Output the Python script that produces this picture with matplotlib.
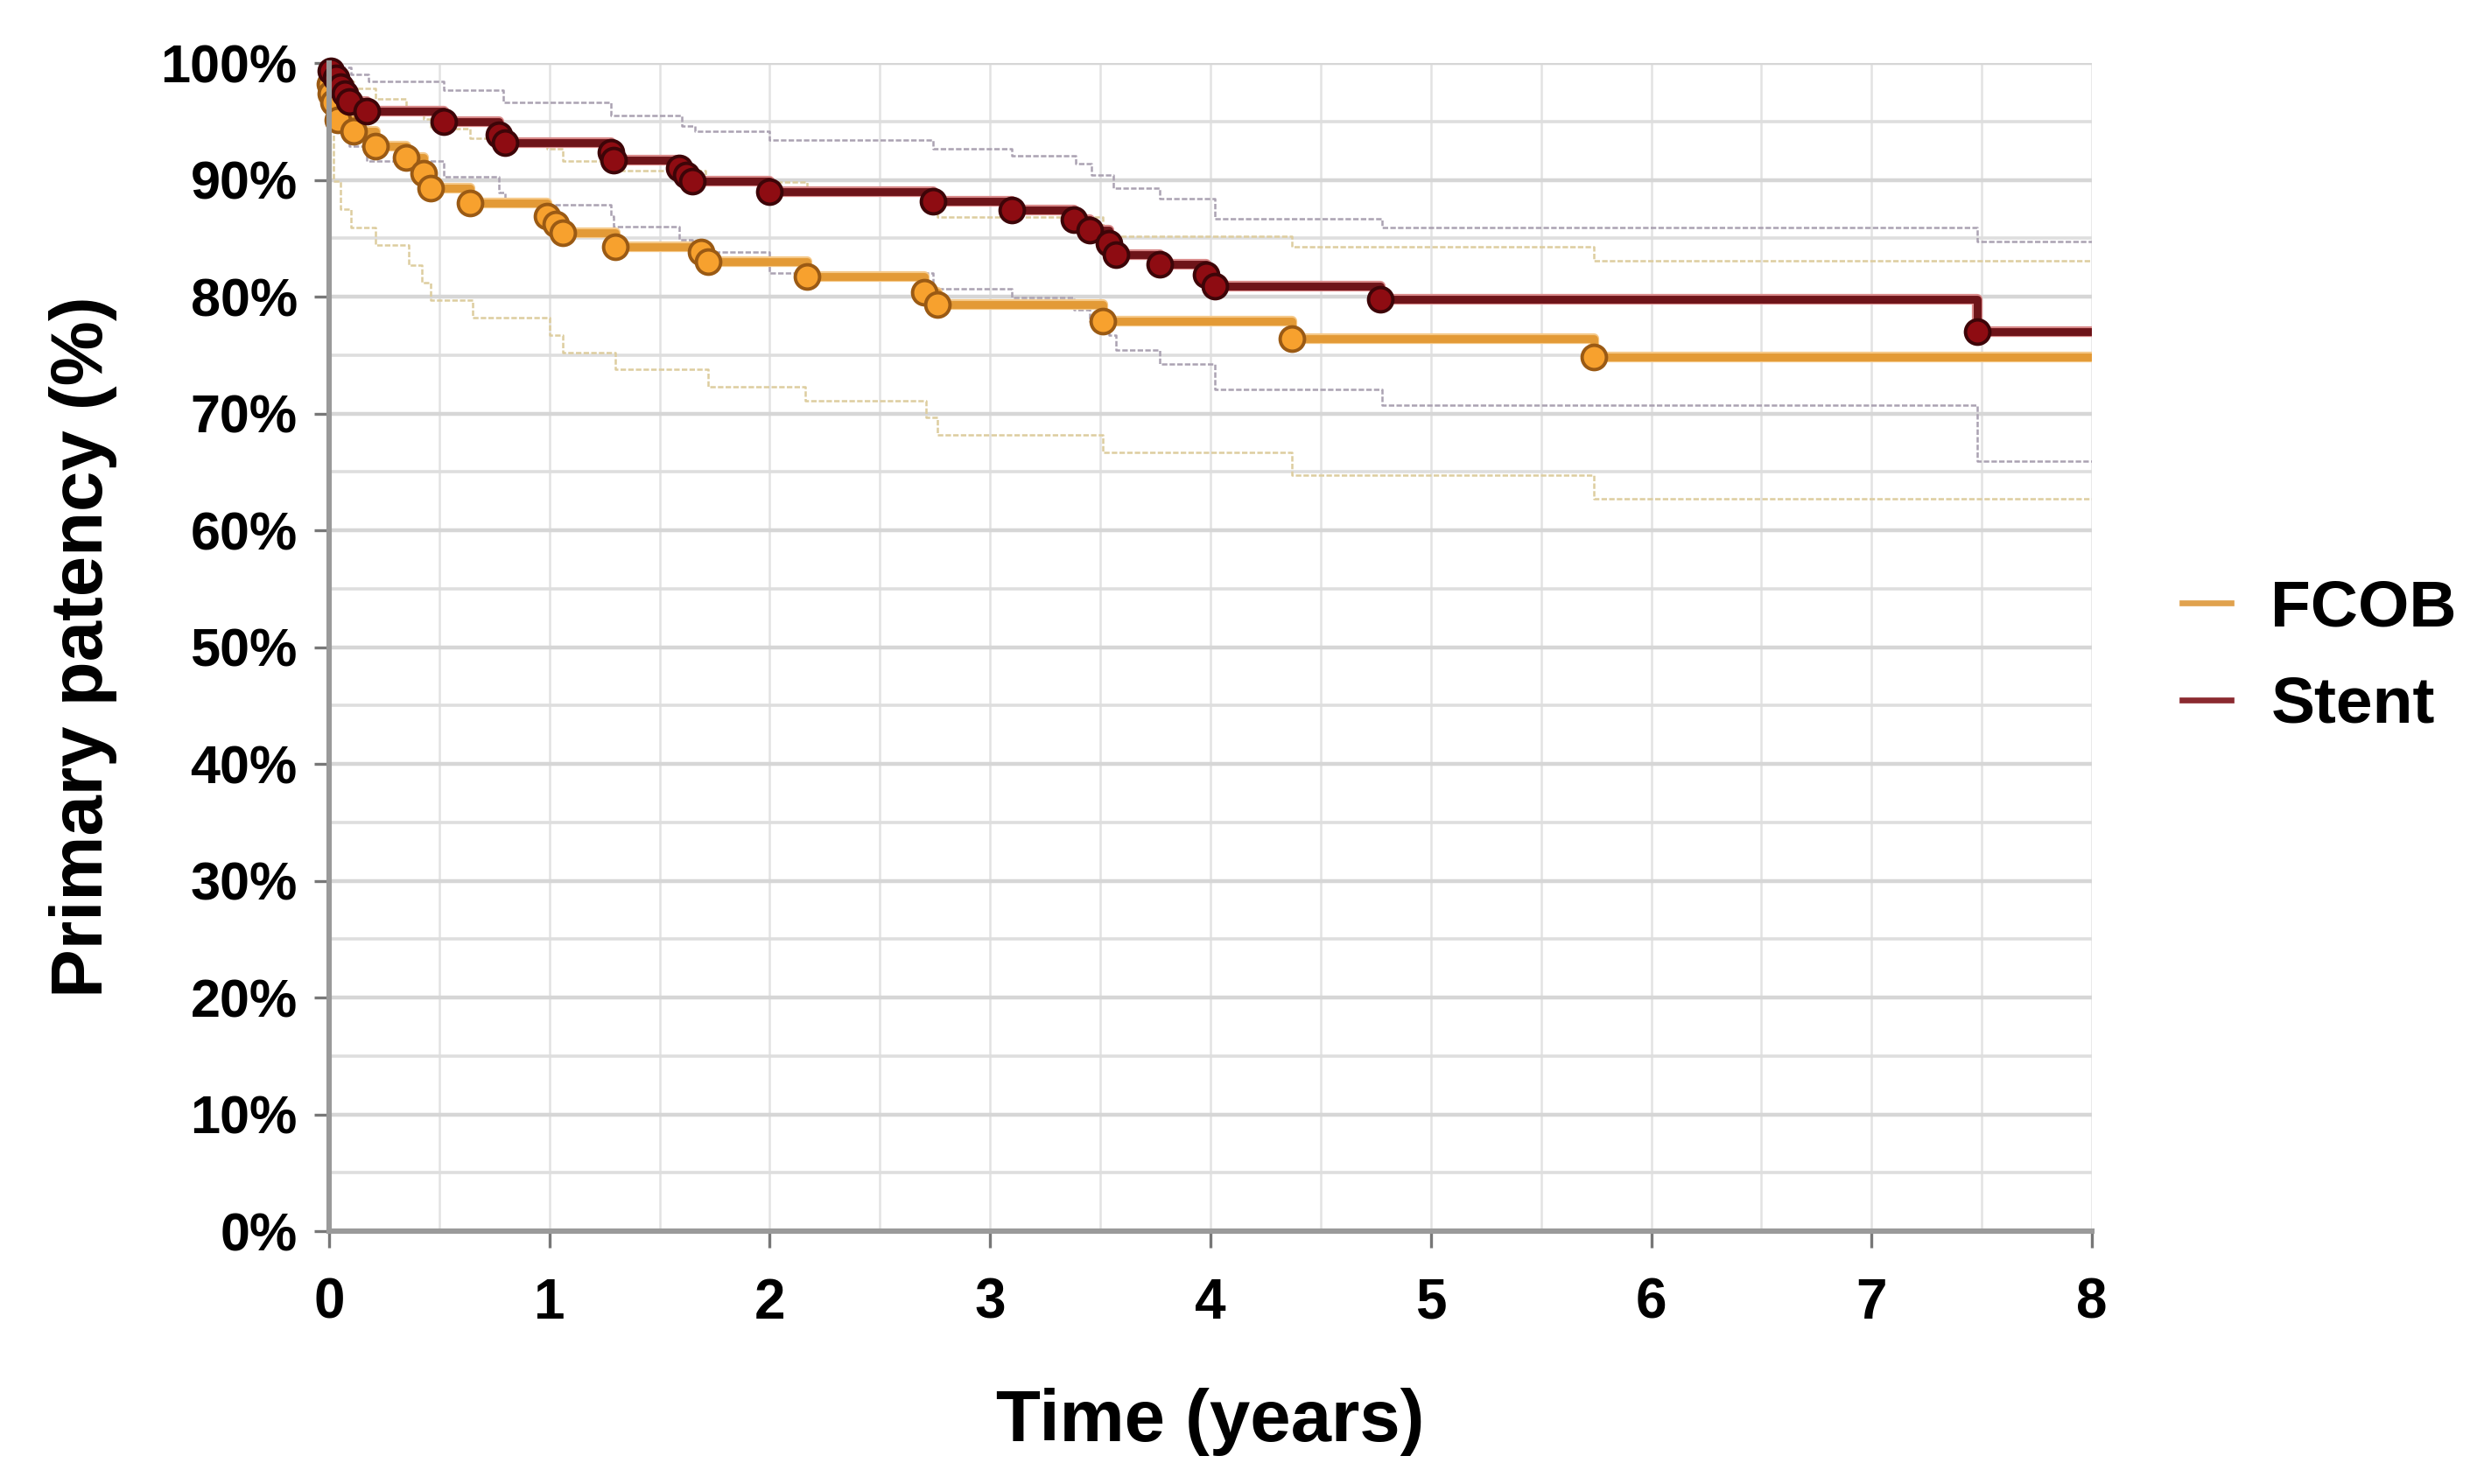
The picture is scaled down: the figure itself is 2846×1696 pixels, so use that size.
import matplotlib
matplotlib.use("Agg")
import matplotlib.pyplot as plt
import matplotlib.patheffects as pe
from matplotlib.lines import Line2D
from matplotlib.ticker import MultipleLocator, FuncFormatter

plt.rcParams['font.family'] = ['Liberation Sans', 'DejaVu Sans']
plt.rcParams['font.weight'] = 'bold'

# Kaplan-Meier estimates (time in years, patency in %)
stent_t = [0, 0.01, 0.03, 0.05, 0.07, 0.09, 0.17, 0.52, 0.77, 0.80, 1.28, 1.29, 1.59, 1.62, 1.65,
           2.0, 2.74, 3.1, 3.38, 3.45, 3.54, 3.57, 3.77, 3.98, 4.02, 4.77, 7.48]
stent_s = [100, 99.3, 98.7, 98.0, 97.4, 96.7, 95.9, 95.0, 93.9, 93.2, 92.4, 91.7, 91.0, 90.4, 89.9,
           89.0, 88.2, 87.4, 86.6, 85.7, 84.6, 83.6, 82.8, 81.9, 80.9, 79.8, 77.0]

fcob_t = [0, 0.005, 0.01, 0.02, 0.04, 0.11, 0.21, 0.35, 0.43, 0.46, 0.64, 0.99, 1.03, 1.06, 1.30,
          1.69, 1.72, 2.17, 2.70, 2.76, 3.51, 4.37, 5.74]
fcob_s = [100, 98.2, 97.4, 96.6, 95.1, 94.2, 92.9, 91.9, 90.6, 89.3, 88.0, 86.9, 86.2, 85.5, 84.3,
          83.8, 83.0, 81.7, 80.4, 79.3, 77.9, 76.4, 74.8]

# confidence limits
stent_up_t = [0, 0.02, 0.1, 0.18, 0.52, 0.79, 1.28, 1.60, 1.66, 2.0, 2.74, 3.1, 3.39, 3.46, 3.56,
              3.77, 4.02, 4.78, 7.48]
stent_up_s = [100, 99.6, 99.0, 98.4, 97.7, 96.6, 95.5, 94.6, 94.2, 93.4, 92.7, 92.1, 91.4, 90.4, 89.3,
              88.4, 86.7, 85.9, 84.7]
stent_lo_t = [0, 0.01, 0.03, 0.05, 0.07, 0.09, 0.17, 0.52, 0.77, 0.80, 1.28, 1.29, 1.59, 1.65, 2.0,
              2.74, 3.1, 3.38, 3.45, 3.54, 3.57, 3.77, 4.02, 4.78, 7.48]
stent_lo_s = [100, 97.8, 96.3, 95.0, 93.9, 92.9, 91.6, 90.3, 88.9, 87.9, 86.9, 86.0, 84.9, 83.8, 82.0,
              80.7, 79.9, 78.9, 77.9, 76.7, 75.4, 74.2, 72.1, 70.7, 65.9]
fcob_up_t = [0, 0.005, 0.01, 0.02, 0.04, 0.11, 0.21, 0.35, 0.43, 0.46, 0.64, 0.99, 1.06, 1.30, 1.71,
             2.17, 2.70, 2.76, 3.51, 4.37, 5.74]
fcob_up_s = [100, 99.8, 99.5, 99.1, 98.4, 97.8, 96.9, 96.1, 95.2, 94.4, 93.6, 92.7, 91.6, 90.8, 89.8,
             88.8, 87.7, 86.8, 85.2, 84.3, 83.1]
fcob_lo_t = [0, 0.02, 0.05, 0.10, 0.21, 0.36, 0.42, 0.46, 0.65, 1.0, 1.06, 1.30, 1.72, 2.16, 2.71,
             2.76, 3.51, 4.37, 5.74]
fcob_lo_s = [100, 89.9, 87.5, 85.9, 84.4, 82.7, 81.2, 79.7, 78.2, 76.7, 75.2, 73.8, 72.3, 71.1, 69.7,
             68.2, 66.7, 64.7, 62.7]

t_end = 8

fig = plt.figure(figsize=(14.23, 8.48), dpi=200)
ax = fig.add_axes([0.1321, 0.1704, 0.7077, 0.7871])


def steps(t, s):
    return t + [t_end], s + [s[-1]]


# grid
ax.xaxis.set_minor_locator(MultipleLocator(0.5))
ax.yaxis.set_minor_locator(MultipleLocator(5))
ax.grid(which='minor', axis='x', color='#e2e2e2', lw=0.9)
ax.grid(which='major', axis='x', color='#e2e2e2', lw=0.9)
ax.grid(which='major', axis='y', color='#d6d6d6', lw=1.6)
ax.grid(which='minor', axis='y', color='#dedede', lw=1.3)
ax.set_axisbelow(True)

# confidence limits
for t, s, c in [(stent_up_t, stent_up_s, '#aba2b2'), (stent_lo_t, stent_lo_s, '#aba2b2'),
                (fcob_up_t, fcob_up_s, '#ddcd9f'), (fcob_lo_t, fcob_lo_s, '#ddcd9f')]:
    x, y = steps(t, s)
    ax.step(x, y, where='post', color=c, lw=0.9, ls=(0, (2.5, 1)))

# main curves
x, y = steps(fcob_t, fcob_s)
ax.step(x, y, where='post', color='#e39a36', lw=3.2,
        path_effects=[pe.Stroke(linewidth=4.4, foreground='#f5c98a'), pe.Normal()])
ax.plot(fcob_t[1:], fcob_s[1:], 'o', ms=10, mfc='#f7a12e', mec='#9a5a14', mew=1.4, clip_on=False)

x, y = steps(stent_t, stent_s)
ax.step(x, y, where='post', color='#6e1419', lw=3.2,
        path_effects=[pe.Stroke(linewidth=4.4, foreground='#d98a8a'), pe.Normal()])
ax.plot(stent_t[1:], stent_s[1:], 'o', ms=10, mfc='#8e0c12', mec='#3d0508', mew=1.4, clip_on=False)

ax.set_xlim(0, t_end)
ax.set_ylim(0, 100)
ax.set_xticks(range(0, 9))
ax.set_yticks(range(0, 101, 10))
ax.yaxis.set_major_formatter(FuncFormatter(lambda v, p: f"{int(v)}%"))
ax.tick_params(axis='y', which='major', labelsize=22, colors='#777777', labelcolor='black',
               length=6, width=1.2, pad=7)
ax.tick_params(axis='x', which='major', labelsize=23, colors='#777777', labelcolor='black',
               length=7, width=1.2, pad=12)
ax.tick_params(axis='both', which='minor', length=0)
for lab in ax.get_xticklabels() + ax.get_yticklabels():
    lab.set_fontweight('bold')

for side in ['top', 'right']:
    ax.spines[side].set_visible(False)
ax.spines['left'].set_color('#9a9a9a')
ax.spines['left'].set_linewidth(2.2)
ax.spines['bottom'].set_color('#9a9a9a')
ax.spines['bottom'].set_linewidth(2.2)

ax.set_xlabel('Time (years)', fontsize=30, fontweight='bold', labelpad=24)
ax.set_ylabel('Primary patency (%)', fontsize=30, fontweight='bold', labelpad=18)

handles = [Line2D([], [], color='#e0a24e', lw=2.4), Line2D([], [], color='#8b2a30', lw=2.4)]
fig.legend(handles, ['FCOB', 'Stent'], loc='center left', bbox_to_anchor=(0.876, 0.557),
           frameon=False, prop={'weight': 'bold', 'size': 27}, borderpad=0, borderaxespad=0,
           handlelength=0.75, handletextpad=0.6, labelspacing=0.55)

fig.savefig('out.png', dpi=200)
